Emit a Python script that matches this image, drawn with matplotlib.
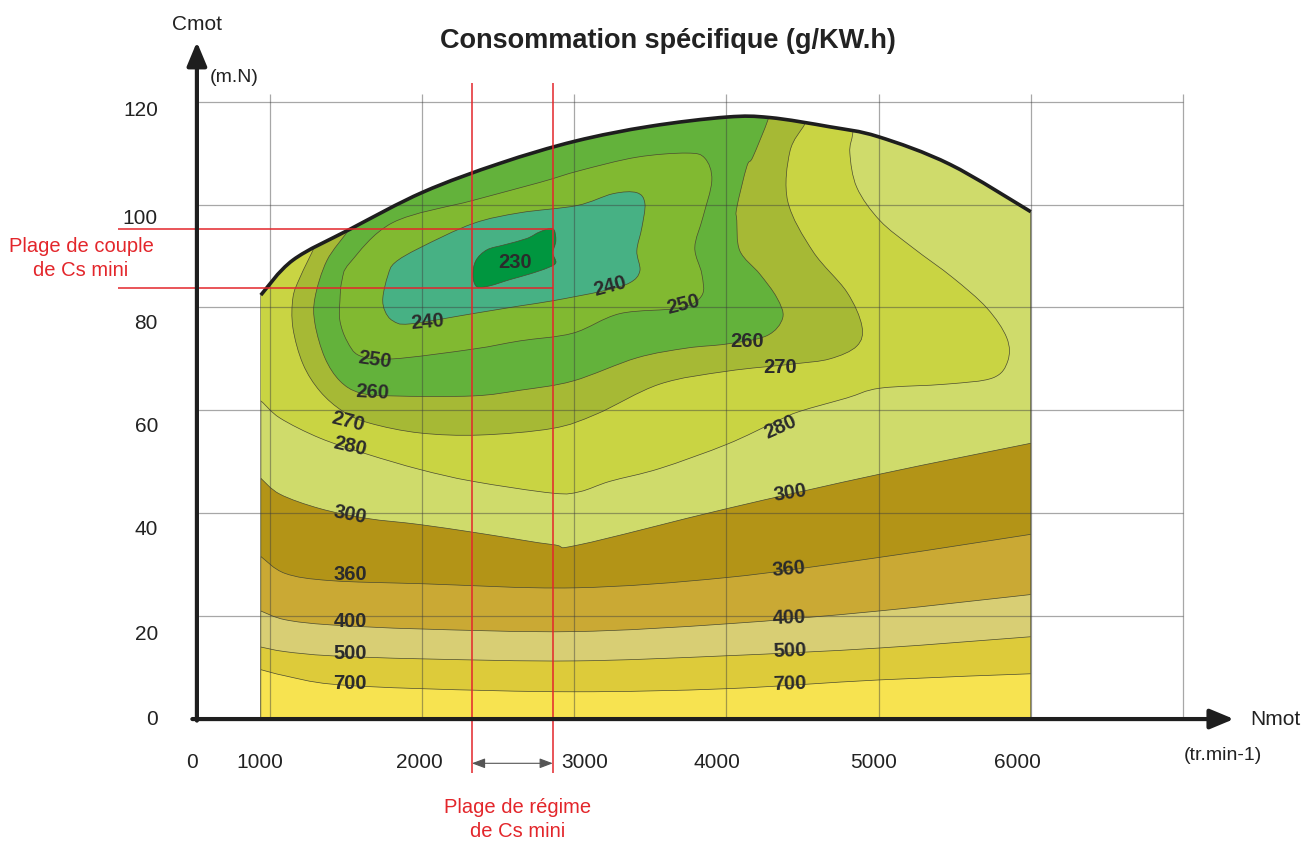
import numpy as np
import matplotlib
matplotlib.use('Agg')
import matplotlib.pyplot as plt
from matplotlib.path import Path
from matplotlib.patches import PathPatch

plt.rcParams['font.family'] = ['Liberation Sans', 'DejaVu Sans']

# full load torque curve (rpm, m.N)
FULL_LOAD_RPM = [940, 1151, 1526, 2005, 2511, 3004, 3497, 4003, 4286, 4680, 4996, 5469, 6000]
FULL_LOAD_NM = [82.4, 89.2, 95.2, 102.4, 108.0, 112.3, 115.2, 117.0, 116.9, 115.1, 113.2, 107.8, 98.6]

# iso-consumption lines of the low load zone (g/kW.h)
LOW_RPM = [940, 1100, 1400, 2000, 3000, 4000, 5000, 6000]
ISO_360 = [31.6, 28.3, 26.9, 26.3, 25.5, 27.5, 31.4, 35.9]
ISO_400 = [21.0, 19.3, 18.3, 17.5, 17.0, 18.5, 21.0, 24.2]
ISO_500 = [14.0, 13.1, 12.3, 11.7, 11.3, 12.3, 13.8, 16.0]
ISO_700 = [9.6, 8.4, 6.8, 5.9, 5.3, 5.9, 7.6, 8.8]

ISO_300_RPM = [940, 1066, 1329, 1637, 1986, 2380, 2859, 3037, 4003, 5008, 6000]
ISO_300_NM = [46.8, 43.7, 40.9, 39.0, 37.8, 36.1, 33.9, 33.9, 40.9, 47.6, 53.6]

ISO_280_RPM = [880, 941, 1066, 1329, 1637, 1986, 2334, 2859, 3037, 3234, 3562, 4003, 4331,
               4482, 4791, 5008, 5448, 5750, 5849, 5842, 5711, 5487, 5225, 5008, 4857,
               4811, 4830, 4840]
ISO_280_NM = [62.5, 61.8, 58.5, 54.6, 51.5, 48.5, 46.2, 43.9, 44.2, 46.2, 48.7, 53.4, 57.9,
              59.8, 62.4, 64.3, 65.1, 66.3, 69.6, 74.1, 79.9, 85.8, 91.6, 96.9, 103.3,
              110.0, 113.8, 118.0]

ISO_270_RPM = [1330, 1296, 1197, 1151, 1151, 1217, 1329, 1480, 1657, 1986, 2380, 2859, 3148,
               3562, 4003, 4436, 4679, 4857, 4890, 4791, 4568, 4403, 4417, 4516, 4560]
ISO_270_NM = [95.0, 92.0, 85.8, 81.9, 76.0, 69.0, 63.7, 59.8, 57.5, 55.6, 55.2, 56.5, 59.3,
              65.1, 67.6, 69.0, 70.0, 72.5, 76.4, 83.0, 90.9, 100.6, 110.3, 115.7, 119.0]

ISO_260_RPM = [1545, 1512, 1374, 1296, 1296, 1361, 1460, 1591, 1808, 2334, 2643, 2991, 3411,
               3740, 4003, 4265, 4370, 4331, 4219, 4088, 4068, 4068, 4134, 4173, 4272, 4280]
ISO_260_NM = [97.5, 94.9, 89.1, 81.9, 76.8, 70.2, 65.7, 63.4, 62.8, 62.8, 63.9, 65.7, 70.2,
              72.1, 72.9, 74.5, 78.0, 81.9, 86.5, 91.0, 96.9, 99.4, 107.4, 109.2, 116.4, 118.5]

ISO_250_RPM = [1460, 1473, 1526, 1808, 2334, 2774, 3037, 3411, 3740, 3858, 3904, 3845, 3792,
               3838, 3838, 3694, 3300, 2991, 2643, 2334, 1808, 1591, 1506, 1460]
ISO_250_NM = [81.3, 85.2, 88.7, 96.5, 100.8, 104.3, 106.6, 109.2, 110.0, 109.0, 104.7, 97.5,
              91.6, 86.5, 82.3, 79.9, 78.8, 75.0, 73.5, 71.9, 70.0, 70.6, 73.5, 77.4]

ISO_240_RPM = [1742, 1775, 1821, 1986, 2334, 2643, 3017, 3254, 3411, 3464, 3444, 3411, 3431,
               3365, 3188, 2859, 2643, 2334, 1920, 1808, 1756]
ISO_240_NM = [81.9, 86.2, 88.7, 91.6, 96.3, 98.4, 99.8, 102.1, 102.3, 100.2, 95.5, 91.0, 87.1,
              84.8, 83.2, 81.3, 80.3, 78.8, 76.8, 77.4, 79.3]

ISO_230_RPM = [2334, 2353, 2426, 2544, 2688, 2774, 2859, 2879, 2859, 2879, 2826, 2708, 2577,
               2445, 2360]
ISO_230_NM = [86.2, 89.1, 91.2, 92.2, 93.4, 94.7, 95.3, 93.0, 90.6, 88.7, 87.7, 86.5, 85.4,
              84.2, 84.0]

# zone colours
COL = {
    '>700': '#f7e350', '500': '#ddcb3a', '400': '#d8ce74', '360': '#caa934',
    '300': '#b39417', '280': '#cfdb6b', '270': '#c9d443', '260': '#a6b935',
    '250': '#63b23b', '240': '#81b931', '230': '#47b184', '<230': '#00963f',
}

# label text, rpm, torque, rotation
LABELS = [
    ('230', 2610, 88.8, 0), ('240', 2032, 77.2, 5), ('240', 3234, 84.0, 15),
    ('250', 1690, 69.8, -8), ('250', 3714, 80.5, 14), ('260', 1670, 63.4, -3),
    ('260', 4135, 73.3, 0), ('270', 1513, 57.7, -14), ('270', 4352, 68.4, 0),
    ('280', 1526, 52.9, -13), ('280', 4352, 56.8, 24), ('300', 1526, 39.7, -11),
    ('300', 4417, 43.9, 9), ('360', 1526, 28.0, 0), ('360', 4411, 29.2, 5),
    ('400', 1526, 18.9, 0), ('400', 4411, 19.6, 2), ('500', 1526, 12.8, 0),
    ('500', 4417, 13.2, 2), ('700', 1526, 7.0, 0), ('700', 4417, 6.8, 2),
]

GRID_RPM = [1000, 2000, 3000, 4000, 5000, 6000, 7000]
GRID_NM = [20, 40, 60, 80, 100, 120]
XTICK_TEXT = ['0', '1000', '2000', '3000', '4000', '5000', '6000']
XTICK_POS = [487, 934, 1979, 3070, 3938, 4969, 5909]
YTICK_TEXT = ['120', '100', '80', '60', '40', '20', '0']
YTICK_POS = [117.2, 96.2, 75.8, 55.8, 35.8, 15.4, -1.2]

CS_MIN_RPM = (2327, 2859)
CS_MIN_NM = (83.8, 95.2)

RED = '#e3262b'
LINE = '#4b4b30'


def bezier(xs, ys, closed=False):
    """Catmull-Rom spline through the points, as cubic bezier path pieces."""
    p = np.column_stack([xs, ys]).astype(float)
    n = len(p)
    verts = [tuple(p[0])]
    codes = [Path.MOVETO]
    segs = n if closed else n - 1
    for i in range(segs):
        p0 = p[(i - 1) % n] if (closed or i > 0) else p[i]
        p1 = p[i]
        p2 = p[(i + 1) % n]
        p3 = p[(i + 2) % n] if (closed or i + 2 < n) else p2
        verts += [tuple(p1 + (p2 - p0) / 6), tuple(p2 - (p3 - p1) / 6), tuple(p2)]
        codes += [Path.CURVE4] * 3
    if closed:
        verts.append(tuple(p[0]))
        codes.append(Path.CLOSEPOLY)
    return verts, codes


fig = plt.figure(figsize=(13.05, 8.41), dpi=100)
ax = fig.add_axes([0, 0, 1, 1])
ax.set_xlim(-774, 7802)
ax.set_ylim(-23.7, 139.75)
ax.axis('off')

# engine operating envelope
v, c = bezier(FULL_LOAD_RPM, FULL_LOAD_NM)
env_path = Path([(940, 0)] + v + [(6000, 0), (940, 0)],
                [Path.MOVETO, Path.LINETO] + c[1:] + [Path.LINETO, Path.CLOSEPOLY])
env = PathPatch(env_path, facecolor=COL['280'], edgecolor=LINE, lw=0.6, zorder=1)
ax.add_patch(env)


def add_zone(verts, codes, color):
    patch = PathPatch(Path(verts, codes), facecolor=color, edgecolor=LINE,
                      lw=0.5, zorder=1)
    ax.add_patch(patch)
    patch.set_clip_path(env)


# low load bands, filled down to the x axis
for xs, ys, key in [(ISO_300_RPM, ISO_300_NM, '300'), (LOW_RPM, ISO_360, '360'),
                    (LOW_RPM, ISO_400, '400'), (LOW_RPM, ISO_500, '500'),
                    (LOW_RPM, ISO_700, '>700')]:
    v, c = bezier(xs, ys)
    add_zone(v + [(6000, 0), (940, 0), v[0]],
             c + [Path.LINETO, Path.LINETO, Path.CLOSEPOLY], COL[key])

# lines that leave through the full load curve
for xs, ys, key in [(ISO_280_RPM, ISO_280_NM, '270'), (ISO_270_RPM, ISO_270_NM, '260'),
                    (ISO_260_RPM, ISO_260_NM, '250')]:
    v, c = bezier(xs, ys)
    add_zone(v + [(xs[-1], 140), (xs[0], 140), v[0]],
             c + [Path.LINETO, Path.LINETO, Path.CLOSEPOLY], COL[key])

# closed islands around the best consumption point
for xs, ys, key in [(ISO_250_RPM, ISO_250_NM, '240'), (ISO_240_RPM, ISO_240_NM, '230'),
                    (ISO_230_RPM, ISO_230_NM, '<230')]:
    v, c = bezier(xs, ys, closed=True)
    add_zone(v, c, COL[key])

# full load curve
v, c = bezier(FULL_LOAD_RPM, FULL_LOAD_NM)
ax.add_patch(PathPatch(Path(v, c), facecolor='none', edgecolor='#1e1e1e',
                       lw=2.6, capstyle='butt', zorder=4))

# grid
ax.vlines(GRID_RPM, 0, 121.5, color='#3d3d3d', alpha=0.45, lw=0.9, zorder=3)
ax.hlines(GRID_NM, 520, 7000, color='#3d3d3d', alpha=0.45, lw=0.9, zorder=3)

# contour values
for txt, x, y, rot in LABELS:
    ax.text(x, y, txt, fontsize=14.5, fontweight='bold', color='#2b2b2b',
            ha='center', va='center', rotation=rot, rotation_mode='anchor', zorder=5)

# axes with arrows
arrow = dict(arrowstyle='-|>,head_length=1.2,head_width=0.5', lw=3, color='#1e1e1e',
             shrinkA=0, shrinkB=0, mutation_scale=12)
ax.annotate('', xy=(7335, 0), xytext=(490, 0), arrowprops=arrow, zorder=8)
ax.annotate('', xy=(520, 131.6), xytext=(520, -0.3), arrowprops=arrow, zorder=8)

for txt, x in zip(XTICK_TEXT, XTICK_POS):
    ax.text(x, -9.5, txt, fontsize=15, color='#222222', ha='center', va='baseline')
for txt, y in zip(YTICK_TEXT, YTICK_POS):
    ax.text(264, y, txt, fontsize=15, color='#222222', ha='right', va='baseline')

ax.text(520, 133.9, 'Cmot', fontsize=15, color='#222222', ha='center', va='baseline')
ax.text(606, 123.8, '(m.N)', fontsize=14, color='#222222', ha='left', va='baseline')
ax.text(7440, -1.2, 'Nmot', fontsize=15, color='#222222', ha='left', va='baseline')
ax.text(7263, -8.0, '(tr.min-1)', fontsize=14, color='#222222', ha='center', va='baseline')
ax.text(3616, 130.4, 'Consommation spécifique (g/KW.h)', fontsize=19.5,
        fontweight='bold', color='#222222', ha='center', va='baseline')

# minimum consumption ranges
ax.vlines(CS_MIN_RPM, -10.5, 123.6, color=RED, lw=1.1, zorder=6)
ax.hlines(CS_MIN_NM, 0, CS_MIN_RPM[1], color=RED, lw=1.1, zorder=6)
ax.annotate('', xy=(CS_MIN_RPM[1], -8.6), xytext=(CS_MIN_RPM[0], -8.6),
            arrowprops=dict(arrowstyle='<|-|>,head_length=0.8,head_width=0.3',
                            lw=0.8, color='#555555', shrinkA=0, shrinkB=0,
                            mutation_scale=10))
ax.text(-242, 90.8, 'Plage de couple', fontsize=14.5, color=RED, ha='center', va='baseline')
ax.text(-242, 86.1, 'de Cs mini', fontsize=14.5, color=RED, ha='center', va='baseline')
ax.text(2630, -18.3, 'Plage de régime', fontsize=14.5, color=RED, ha='center', va='baseline')
ax.text(2630, -22.9, 'de Cs mini', fontsize=14.5, color=RED, ha='center', va='baseline')

fig.savefig('out.png', dpi=100, facecolor='white')
